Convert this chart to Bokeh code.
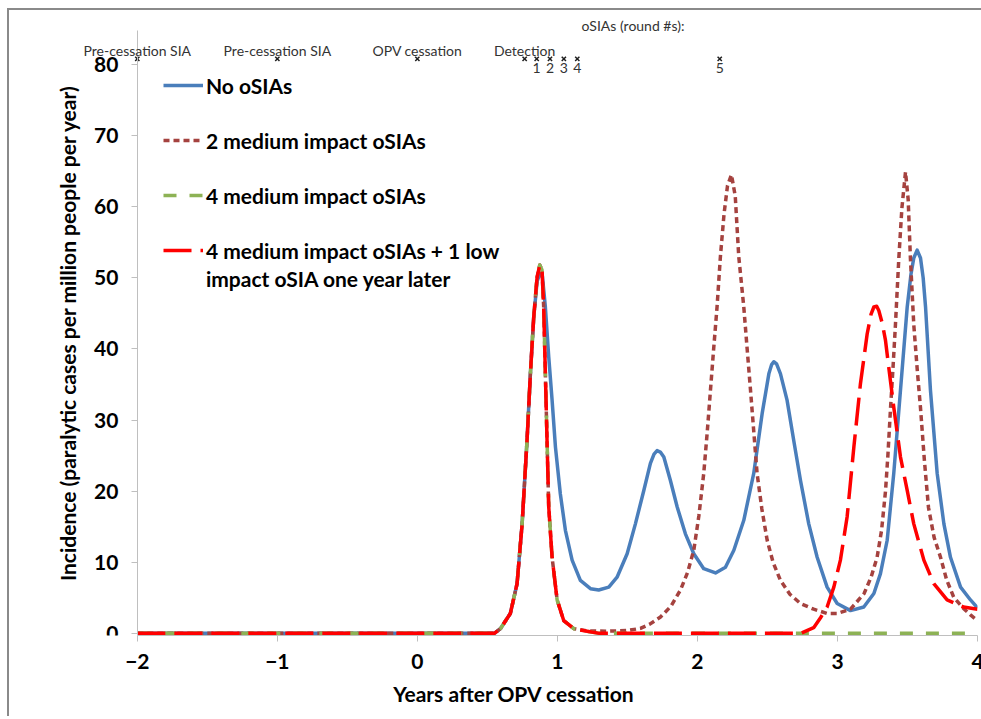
from bokeh.plotting import figure
from bokeh.models import Range1d, Legend, LegendItem, Label, LabelSet, ColumnDataSource
from bokeh.core.properties import value
from bokeh.embed import file_html
from bokeh.resources import INLINE

# ---------------- data ----------------
x_ticks = [-2, -1, 0, 1, 2, 3, 4]
y_ticks = [0, 10, 20, 30, 40, 50, 60, 70, 80]

no_osia_x = [-2, 0.55, 0.593, 0.664, 0.712, 0.748, 0.783, 0.807, 0.831, 0.855, 0.874, 0.891,
             0.914, 0.938, 0.962, 0.986, 1.021, 1.057, 1.105, 1.164, 1.236, 1.295, 1.367, 1.426,
             1.498, 1.557, 1.617, 1.664, 1.69, 1.712, 1.735, 1.76, 1.807, 1.855, 1.914, 1.974,
             2.045, 2.129, 2.2, 2.26, 2.331, 2.402, 2.462, 2.51, 2.53, 2.545, 2.565, 2.593, 2.64,
             2.688, 2.736, 2.795, 2.855, 2.926, 2.998, 3.093, 3.188, 3.26, 3.307, 3.355, 3.402,
             3.45, 3.498, 3.525, 3.545, 3.569, 3.593, 3.612, 3.629, 3.664, 3.712, 3.76, 3.807,
             3.879, 3.95, 4.0]
no_osia_y = [0, 0, 0.66, 2.8, 7.0, 15.4, 27.1, 36.5, 44.5, 49.5, 50.6, 50.6,
             45.9, 38.9, 32.8, 26.2, 19.6, 14.5, 10.3, 7.45, 6.28, 6.1, 6.5, 7.9,
             11.2, 15.4, 20.1, 23.9, 25.2, 25.7, 25.5, 24.8, 21.5, 17.8, 14.0, 11.2,
             9.1, 8.5, 9.3, 11.7, 15.9, 22.5, 30.9, 36.5, 37.8, 38.2, 37.9, 36.5, 32.8,
             27.1, 21.5, 15.4, 10.7, 6.5, 4.2, 3.2, 3.7, 5.6, 8.4, 13.1, 22.5,
             34.2, 45.9, 50.5, 52.8, 53.9, 52.8, 50.0, 45.9, 34.2, 22.5, 15.4, 10.7,
             6.5, 4.7, 3.6]

two_med_x = [-2, 0.55, 0.593, 0.664, 0.712, 0.748, 0.783, 0.807, 0.831, 0.855, 0.874, 0.89,
             0.902, 0.914, 0.926, 0.938, 0.962, 0.998, 1.045, 1.117, 1.212, 1.35, 1.5, 1.593,
             1.66, 1.736, 1.81, 1.879, 1.93, 1.974, 2.01, 2.045, 2.07, 2.093, 2.117, 2.14, 2.164,
             2.19, 2.215, 2.243, 2.27, 2.295, 2.331, 2.355, 2.379, 2.403, 2.426, 2.46, 2.498,
             2.54, 2.593, 2.66, 2.736, 2.83, 2.926, 3.0, 3.093, 3.19, 3.24, 3.283, 3.315, 3.343,
             3.36, 3.379, 3.397, 3.414, 3.438, 3.46, 3.486, 3.505, 3.521, 3.545, 3.57, 3.593,
             3.62, 3.65, 3.69, 3.736, 3.78, 3.83, 3.9, 3.95, 4.0]
two_med_y = [0, 0, 0.66, 2.8, 7.0, 15.4, 27.1, 36.5, 44.5, 50.1, 51.8, 51.1,
             45.9, 36.5, 27.1, 17.8, 10.7, 4.7, 1.8, 0.66, 0.35, 0.3, 0.4, 0.7,
             1.3, 2.3, 3.8, 6.1, 8.6, 11.7, 16.5, 22.5, 28.3, 34.2, 40.3, 45.9, 53.0,
             59.0, 63.0, 64.5, 61.5, 53.0, 45.9, 40.0, 34.2, 28.2, 22.5, 17.5, 13.1,
             10.0, 7.45, 5.5, 4.2, 3.4, 2.8, 2.8, 3.4, 5.6, 7.9, 10.7, 14.5, 20.0,
             25.0, 31.7, 37.5, 43.4, 52.7, 59.8, 64.9, 61.0, 52.7, 43.4, 37.0, 31.7,
             24.5, 17.7, 13.5, 10.7, 7.5, 5.1, 3.5, 2.6, 1.8]

four_med_x = [-2, 0.55, 0.593, 0.664, 0.712, 0.748, 0.783, 0.807, 0.831, 0.855, 0.874, 0.89,
              0.902, 0.914, 0.926, 0.938, 0.962, 0.998, 1.045, 1.117, 1.212, 1.3, 4.0]
four_med_y = [0, 0, 0.66, 2.8, 7.0, 15.4, 27.1, 36.5, 44.5, 50.1, 51.8, 51.1,
              45.9, 36.5, 27.1, 17.8, 10.7, 4.7, 1.8, 0.66, 0.3, 0, 0]

four_plus_low_x = [-2, 0.55, 0.593, 0.664, 0.712, 0.748, 0.783, 0.807, 0.831, 0.855, 0.874,
                   0.89, 0.902, 0.914, 0.926, 0.938, 0.962, 0.998, 1.045, 1.117, 1.212, 1.3,
                   2.736, 2.83, 2.879, 2.926, 2.974, 3.021, 3.069, 3.117, 3.164, 3.212, 3.24,
                   3.26, 3.28, 3.295, 3.32, 3.343, 3.372, 3.402, 3.45, 3.498, 3.545, 3.617,
                   3.688, 3.783, 3.9, 4.0]
four_plus_low_y = [0, 0, 0.66, 2.8, 7.0, 15.4, 27.1, 36.5, 44.5, 50.1, 51.8,
                   51.1, 45.9, 36.5, 27.1, 17.8, 10.7, 4.7, 1.8, 0.66, 0.3, 0,
                   0.0, 0.8, 2.2, 3.7, 6.5, 10.3, 16.4, 26.2, 35.1, 42.1, 44.9,
                   45.9, 46.0, 45.4, 43.6, 41.2, 36.5, 31.8, 24.8, 20.1, 15.4, 10.3,
                   7.0, 4.7, 3.7, 3.4]

series_names = ["No oSIAs", "2 medium impact oSIAs", "4 medium impact oSIAs",
                "4 medium impact oSIAs + 1 low"]
series_name_cont = "impact oSIA one year later"
series_name_cont_x = -1.51
series_name_cont_y = 49.9

event_x = [-2, -1, 0, 0.766, 0.852, 0.947, 1.046, 1.142, 2.159]
event_y = [80.8, 80.8, 80.8, 80.8, 80.8, 80.8, 80.8, 80.8, 80.8]
event_label_x = [-2, -1, 0, 0.766]
event_label_y = [82.0, 82.0, 82.0, 82.0]
event_labels = ["Pre-cessation SIA", "Pre-cessation SIA", "OPV cessation", "Detection"]
round_x = [0.852, 0.947, 1.046, 1.142, 2.159]
round_y = [79.5, 79.5, 79.5, 79.5, 79.5]
round_labels = ["1", "2", "3", "4", "5"]
rounds_title = "oSIAs (round #s):"
rounds_title_x = 1.54
rounds_title_y = 85.5

# ---------------- figure ----------------
FONT = "Lato"
BIG = "21px"
p = figure(width=975, height=708, output_backend="svg", toolbar_location=None,
           x_range=Range1d(-2.62, 4), y_range=Range1d(-0.3, 86.9),
           min_border_left=41, min_border_right=7, min_border_top=5, min_border_bottom=83)
p.styles = {"margin-left": "9px", "margin-top": "10px",
            "box-shadow": "-2px -2px 0px 0px #8a8a8a"}
p.background_fill_color = "white"
p.border_fill_color = "white"
p.outline_line_color = None
p.xgrid.visible = False
p.ygrid.visible = False

for ax in (p.xaxis[0], p.yaxis[0]):
    ax.axis_line_color = "#BFBFBF"
    ax.major_tick_line_color = "#BFBFBF"
    ax.minor_tick_line_color = None
    ax.major_tick_in = 0
    ax.major_tick_out = 6
    ax.major_label_text_font = FONT
    ax.major_label_text_font_style = "bold"
    ax.major_label_text_font_size = BIG
    ax.major_label_text_color = "black"
    ax.axis_label_text_font = FONT
    ax.axis_label_text_font_style = "bold"
    ax.axis_label_text_font_size = BIG
    ax.axis_label_text_color = "black"

p.xaxis.ticker = x_ticks
p.yaxis.ticker = y_ticks
p.xaxis.bounds = (-2, 4)
p.yaxis.bounds = (-0.3, 84.8)
p.yaxis.fixed_location = -2
p.xaxis.axis_label = "Years after OPV cessation"
p.yaxis.axis_label = "Incidence (paralytic cases per million people per year)"
p.xaxis.major_label_standoff = 12
p.xaxis.axis_label_standoff = 9
p.yaxis.major_label_standoff = 13
p.yaxis.axis_label_standoff = 11

r1 = p.line(no_osia_x, no_osia_y, line_color="#4A7EBB", line_width=3.5, line_join="round")
r2 = p.line(two_med_x, two_med_y, line_color="#A5423F", line_width=3.5, line_dash="6 4",
            line_join="round")
r3 = p.line(four_med_x, four_med_y, line_color="#8DB255", line_width=3.5, line_dash="13 13",
            line_join="round")
r4 = p.line(four_plus_low_x, four_plus_low_y, line_color="#FF0000", line_width=3.5,
            line_dash="28 9", line_join="round")

legend = Legend(items=[LegendItem(label=series_names[0], renderers=[r1]),
                       LegendItem(label=series_names[1], renderers=[r2]),
                       LegendItem(label=series_names[2], renderers=[r3]),
                       LegendItem(label=series_names[3], renderers=[r4])],
                location=(113, 372), padding=0, margin=0, spacing=29,
                glyph_width=40, glyph_height=26, label_height=26, label_standoff=3,
                label_text_font=FONT, label_text_font_style="bold",
                label_text_font_size=BIG, label_text_color="black",
                border_line_alpha=0, background_fill_alpha=0)
p.add_layout(legend, "center")
p.add_layout(Label(x=series_name_cont_x, y=series_name_cont_y, text=series_name_cont,
                   text_align="left", text_baseline="middle", text_font=FONT,
                   text_font_style="bold", text_font_size=BIG, text_color="black"))

# event markers and labels
p.scatter(event_x, event_y, marker="x", size=6, line_color="#202020", line_width=1.5)
ev_src = ColumnDataSource(dict(x=event_label_x, y=event_label_y, t=event_labels))
p.add_layout(LabelSet(x="x", y="y", text="t", source=ev_src, text_align="center",
                      text_baseline="middle", text_font=value(FONT), text_font_size="14px",
                      text_color="#333333"))
rd_src = ColumnDataSource(dict(x=round_x, y=round_y, t=round_labels))
p.add_layout(LabelSet(x="x", y="y", text="t", source=rd_src, text_align="center",
                      text_baseline="middle", text_font=value(FONT), text_font_size="14px",
                      text_color="#333333"))
p.add_layout(Label(x=rounds_title_x, y=rounds_title_y, text=rounds_title, text_align="center",
                   text_baseline="middle", text_font=FONT, text_font_size="14px",
                   text_color="#333333"))

open("out.html", "w").write(file_html(p, INLINE))
